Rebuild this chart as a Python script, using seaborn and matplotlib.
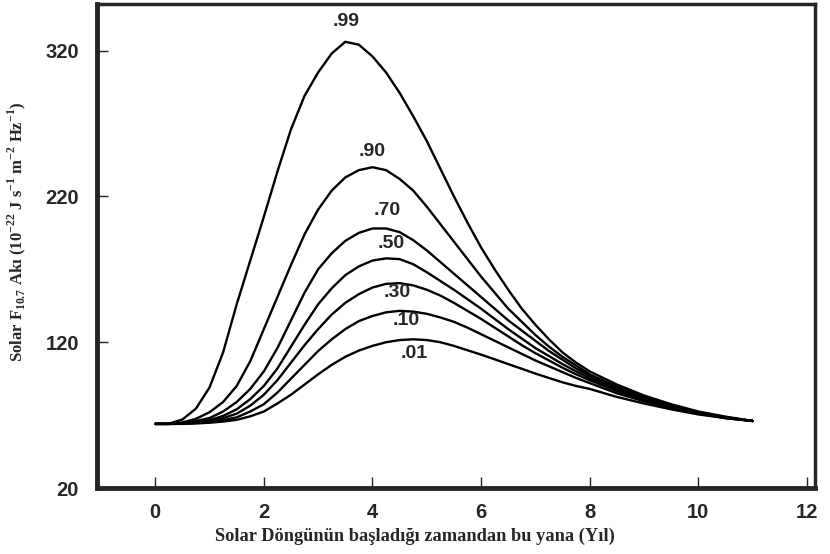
import numpy as np
import pandas as pd
import matplotlib
matplotlib.use("Agg")
import matplotlib.pyplot as plt
import seaborn as sns

# years since start of the solar cycle (quarter steps up to 8, then half steps)
years = [0, 0.25, 0.5, 0.75, 1, 1.25, 1.5, 1.75, 2, 2.25, 2.5, 2.75, 3, 3.25,
         3.5, 3.75, 4, 4.25, 4.5, 4.75, 5, 5.25, 5.5, 5.75, 6, 6.25, 6.5,
         6.75, 7, 7.25, 7.5, 7.75, 8, 8.5, 9, 9.5, 10, 10.5, 11]

# F10.7 flux curves, one per probability level
f99 = [64, 64.2, 67, 74.5, 89, 113, 146, 176, 206, 237, 266, 289, 305, 318,
       326, 324, 316, 305, 291, 275, 258, 239, 220, 202, 185, 170, 156, 143,
       132, 122, 113, 106, 100, 91, 83.5, 77.5, 72.5, 69, 66]
f90 = [64, 64, 65, 67.5, 72, 79, 90, 107, 129, 151, 173, 194, 211, 224, 233,
       238, 240, 238, 232, 224, 213, 201, 189, 177, 165, 154, 143, 134, 125,
       117, 110, 104, 98, 89.5, 82.5, 77, 72, 68.5, 66]
f70 = [64, 64, 64.5, 66, 68, 72.5, 79, 88, 100, 116, 135, 154, 170, 181,
       189.5, 195, 198, 198, 195.5, 190, 183, 175, 167, 159, 151, 143, 135,
       128, 121, 114, 108, 102, 97, 88.5, 82, 76.5, 72, 68.5, 66]
f50 = [64, 64, 64.3, 65.2, 66.5, 69.5, 74, 81, 90, 102, 117, 132, 146, 157,
       166, 172, 176, 177.5, 177, 173.5, 168, 162, 156, 149.5, 143, 136, 129,
       122.5, 116, 110.5, 105, 100, 95.5, 87.5, 81, 76, 71.5, 68.5, 66]
f30 = [64, 64, 64.2, 64.8, 65.8, 68, 71, 76.5, 84, 94, 106, 118, 129, 139,
       147, 153, 157.5, 160, 160.5, 159, 156, 152, 147, 141.5, 136, 130, 124,
       118, 112.5, 107.5, 102.5, 98, 94, 86.5, 80.5, 75.5, 71.5, 68, 66]
f10 = [64, 64, 64.1, 64.6, 65.3, 66.6, 68.5, 72.5, 77.5, 85.5, 95, 104.5,
       114, 122, 129, 134.5, 138, 140.5, 141.5, 141, 139.5, 137, 134, 130,
       125.5, 121, 116.5, 112, 107.5, 103.5, 99.5, 95.5, 92, 85, 79.5, 75,
       71, 68, 66]
f01 = [64, 64, 64, 64.3, 64.8, 65.6, 66.8, 69.2, 72.5, 78, 84, 91, 98, 104.5,
       110, 114.3, 117.5, 120, 121.5, 122, 121.5, 120, 117.5, 114.5, 111.5,
       108.3, 105, 101.8, 98.5, 95.5, 92.5, 90, 88, 82.5, 78, 74, 70.5, 68, 66]

levels = [".99", ".90", ".70", ".50", ".30", ".10", ".01"]
curves = [f99, f90, f70, f50, f30, f10, f01]

# label positions (x in years, y in flux)
label_x = [3.52, 4.0, 4.27, 4.35, 4.46, 4.62, 4.77]
label_y = [340, 251, 210, 188, 154, 135, 112]

df = pd.DataFrame({
    "year": years * len(levels),
    "flux": sum(curves, []),
    "level": np.repeat(levels, len(years)),
})

sns.set_style("ticks")
plt.rcParams["font.family"] = ["Liberation Sans", "DejaVu Sans"]

fig = plt.figure(figsize=(8.3, 5.54), dpi=100)
ax = fig.add_axes([0.117, 0.119, 0.865, 0.874])

sns.lineplot(data=df, x="year", y="flux", hue="level", units="level",
             estimator=None, palette=["black"] * len(levels),
             linewidth=1.7, legend=False, ax=ax)

for lab, lx, ly in zip(levels, label_x, label_y):
    ax.text(lx, ly, lab, ha="center", va="center", fontsize=14,
            fontweight="bold")

ax.set_xlim(-1.07, 12.15)
ax.set_ylim(20, 352)
ax.set_xticks([0, 2, 4, 6, 8, 10, 12])
ax.set_yticks([20, 120, 220, 320])
ax.tick_params(direction="in", length=8, width=1, labelsize=14.5)
ax.tick_params(axis="x", pad=11)
ax.tick_params(axis="y", pad=13)
for lbl in ax.get_xticklabels() + ax.get_yticklabels():
    lbl.set_fontweight("bold")

for side in ["left", "bottom"]:
    ax.spines[side].set_linewidth(3.5)
for side in ["top", "right"]:
    ax.spines[side].set_linewidth(2.5)

ax.set_xlabel("Solar Döngünün başladığı zamandan bu yana (Yıl)",
              family=["Liberation Serif", "DejaVu Serif"], fontweight="bold",
              fontsize=13.2)
ax.xaxis.set_label_coords(0.443, -0.082)
ax.set_ylabel(r"Solar F$_{\mathregular{10.7}}$ Akı (10$^{\mathregular{-22}}$ J s$^{\mathregular{-1}}$ "
              r"m$^{\mathregular{-2}}$ Hz$^{\mathregular{-1}}$)",
              family=["Liberation Serif", "DejaVu Serif"], fontweight="bold",
              fontsize=12)
ax.yaxis.set_label_coords(-0.096, 0.53)

fig.savefig("out.png", dpi=100)
